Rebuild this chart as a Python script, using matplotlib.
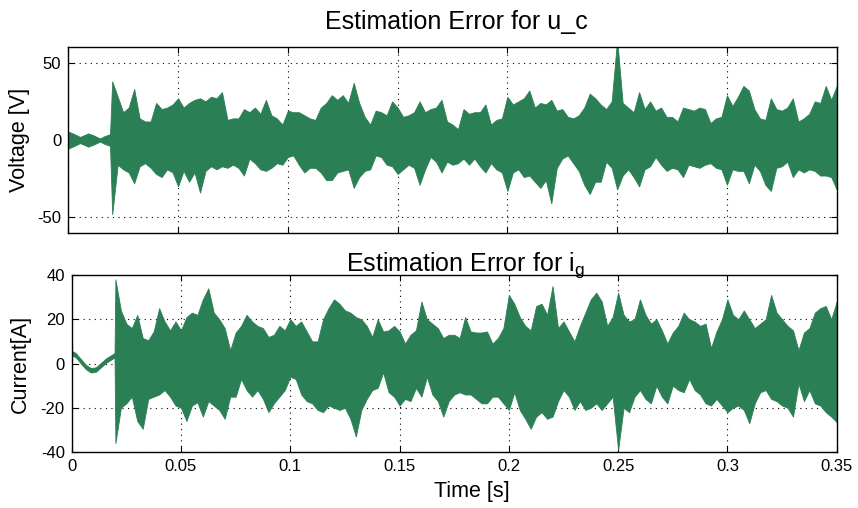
import numpy as np
import matplotlib.pyplot as plt

plt.rcParams['font.family'] = ['Liberation Sans', 'DejaVu Sans']
plt.rcParams['mathtext.default'] = 'regular'
plt.rcParams['axes.unicode_minus'] = False

green = '#2b7f55'

# start-up transient before the estimator switches on (t < 0.02 s)
t_pre_u = [0, 0.0025, 0.0053, 0.007, 0.0091, 0.0115, 0.0144, 0.0165, 0.019]
u_pre_hi = [5.5, 4, 2, 3, 4.3, 3, 1, 2.5, 3.8]
u_pre_lo = [-5.5, -4, -2, -3, -4.3, -3, -1, -2.5, -3.8]

t_pre_i = [0, 0.0019, 0.0042, 0.0065, 0.0088, 0.0111, 0.0134, 0.0157, 0.0181, 0.0196]
i_pre_mid = [4.8, 3.7, 1.0, -1.6, -3.1, -2.7, -0.7, 1.3, 2.8, 3.7]

# envelope of the error signal, sampled every 2.5 ms from 0.02 s to 0.35 s
t_main = np.linspace(0.02, 0.35, 133)

u_hi = [38, 28, 18, 21, 33, 14, 12, 12, 24, 20,
        21, 23, 27, 21, 24, 26, 27, 25, 28, 27,
        31, 13, 14, 14, 20, 18, 21, 17, 26, 16,
        14, 10, 19, 18, 18, 16, 14, 13, 21, 24,
        29, 26, 29, 24, 37, 24, 15, 10, 19, 18,
        16, 25, 21, 15, 16, 18, 25, 18, 20, 21,
        26, 12, 10, 7, 20, 17, 18, 18, 23, 10,
        13, 14, 28, 23, 25, 27, 32, 21, 24, 23,
        26, 19, 20, 15, 14, 16, 21, 30, 27, 23,
        20, 25, 65, 24, 21, 18, 31, 20, 25, 19,
        21, 15, 15, 12, 21, 20, 19, 21, 20, 11,
        14, 15, 29, 22, 28, 35, 32, 20, 14, 13,
        27, 20, 19, 21, 27, 12, 14, 17, 25, 24,
        35, 26, 35]
u_lo = [-48, -16, -19, -21, -28, -17, -15, -18, -22, -24,
        -19, -21, -30, -20, -27, -21, -34, -20, -17, -19,
        -17, -18, -16, -18, -23, -12, -15, -19, -20, -18,
        -15, -16, -11, -10, -16, -21, -18, -18, -21, -26,
        -26, -21, -20, -19, -31, -24, -20, -19, -10, -11,
        -16, -17, -22, -19, -16, -18, -29, -19, -11, -14,
        -21, -14, -16, -15, -12, -16, -12, -17, -21, -15,
        -19, -21, -33, -21, -19, -24, -23, -27, -31, -26,
        -41, -18, -12, -10, -15, -20, -29, -35, -27, -27,
        -14, -18, -32, -23, -19, -24, -30, -19, -17, -11,
        -16, -20, -18, -19, -24, -16, -17, -18, -16, -15,
        -18, -19, -29, -19, -20, -20, -28, -16, -20, -29,
        -33, -18, -17, -14, -24, -19, -21, -19, -20, -23,
        -23, -24, -32]

i_hi = [38, 24, 18, 16, 22, 11.5, 10.5, 14.5, 25, 19,
        15, 19, 15, 21, 23, 22, 29, 34, 23, 20,
        16, 6, 14, 17, 22, 19, 17, 16, 12, 13,
        17, 15, 20, 17, 19, 14.5, 10, 10, 20, 25,
        29, 27, 24, 23, 21, 20, 17, 12, 20, 14.5,
        15, 17, 14.5, 9, 13, 15, 28, 20, 18, 16,
        11.5, 13, 13, 11.5, 21, 14.5, 14, 14, 14.5, 9,
        11.5, 16, 31, 27, 21, 17, 15, 26, 27, 22,
        35, 16, 19, 14.5, 10, 17, 23, 29, 32, 28,
        17, 21, 32, 22, 19, 20, 29, 22, 18, 20,
        15, 9, 14, 17, 23, 20, 19, 17, 18, 7,
        14.5, 20, 29, 22, 20, 24, 20, 16, 18, 20,
        31, 23, 20, 17, 15, 6, 14, 16, 23, 25,
        26, 20, 28]
i_lo = [-36, -20, -18, -15, -26, -29.5, -16, -15, -14, -12,
        -15, -19, -20, -26, -19, -17.5, -24, -17, -19, -21,
        -25, -15, -15, -7, -12, -15, -12, -16, -22, -18,
        -15, -12, -6, -7, -14, -17, -18, -21, -22, -19,
        -20, -21, -20, -25, -33, -21, -16, -12, -11, -4,
        -13, -15, -19, -16, -17, -11, -15, -6, -14, -17,
        -24, -17, -14, -13, -14, -14, -16, -18, -18, -15,
        -15, -18, -21, -13, -21, -25, -29.5, -24, -22, -25,
        -24, -17, -12, -15, -21, -17, -21, -20, -18, -21,
        -18, -15, -39, -20, -22, -15, -12, -16, -18, -10,
        -15, -18, -10, -12, -13, -7, -12, -14, -18, -19,
        -16, -19, -22, -20, -19, -21, -27, -18, -13, -12,
        -16, -17, -19, -20, -24, -9, -17, -12, -18, -19,
        -22, -24, -26.5]

xticks = [0, 0.05, 0.1, 0.15, 0.2, 0.25, 0.3, 0.35]
xticklabels = ['0', '0.05', '0.1', '0.15', '0.2', '0.25', '0.3', '0.35']

W, H = 858, 508
fig = plt.figure(figsize=(W / 100, H / 100), dpi=100)
ax1 = fig.add_axes([68.3 / W, 1 - 232.7 / H, 768.4 / W, 185.4 / H])
ax2 = fig.add_axes([71.7 / W, 1 - 452 / H, 765 / W, 177 / H])

t_u = np.concatenate([t_pre_u, t_main])
t_i = np.concatenate([t_pre_i, t_main])
u_top = np.concatenate([u_pre_hi, u_hi])
u_bot = np.concatenate([u_pre_lo, u_lo])
i_top = np.concatenate([np.array(i_pre_mid) + 1.0, i_hi])
i_bot = np.concatenate([np.array(i_pre_mid) - 1.0, i_lo])

ax1.fill_between(t_u, u_bot, u_top, color=green, lw=0.6, edgecolor=green)
ax2.fill_between(t_i, i_bot, i_top, color=green, lw=0.6, edgecolor=green)

for ax in (ax1, ax2):
    ax.set_xlim(0, 0.35)
    ax.set_xticks(xticks)
    ax.set_axisbelow(True)
    ax.grid(True, color='k', linestyle=(0, (1, 4)), linewidth=0.8)
    ax.tick_params(direction='in', top=True, right=True, length=4, width=0.8,
                   labelsize=12, pad=5)
    for s in ax.spines.values():
        s.set_linewidth(1.0)

ax1.set_ylim(-60, 60)
ax1.set_yticks([-50, 0, 50])
ax1.set_xticklabels([])

ax2.set_ylim(-40, 40)
ax2.set_yticks([-40, -20, 0, 20, 40])
ax2.set_xticklabels(xticklabels)

fig.text(456 / W, 1 - 29 / H, 'Estimation Error for u_c', ha='center',
         va='baseline', fontsize=18)
fig.text(465 / W, 1 - 271 / H, 'Estimation Error for i$_g$', ha='center',
         va='baseline', fontsize=18)
fig.text(20 / W, 1 - 140 / H, 'Voltage [V]', rotation=90, ha='center',
         va='center', fontsize=15.5)
fig.text(20 / W, 1 - 364 / H, 'Current[A]', rotation=90, ha='center',
         va='center', fontsize=15.5)
fig.text(472 / W, 1 - 492 / H, 'Time [s]', ha='center', va='center',
         fontsize=15.5)

fig.savefig('out.png', dpi=100)
